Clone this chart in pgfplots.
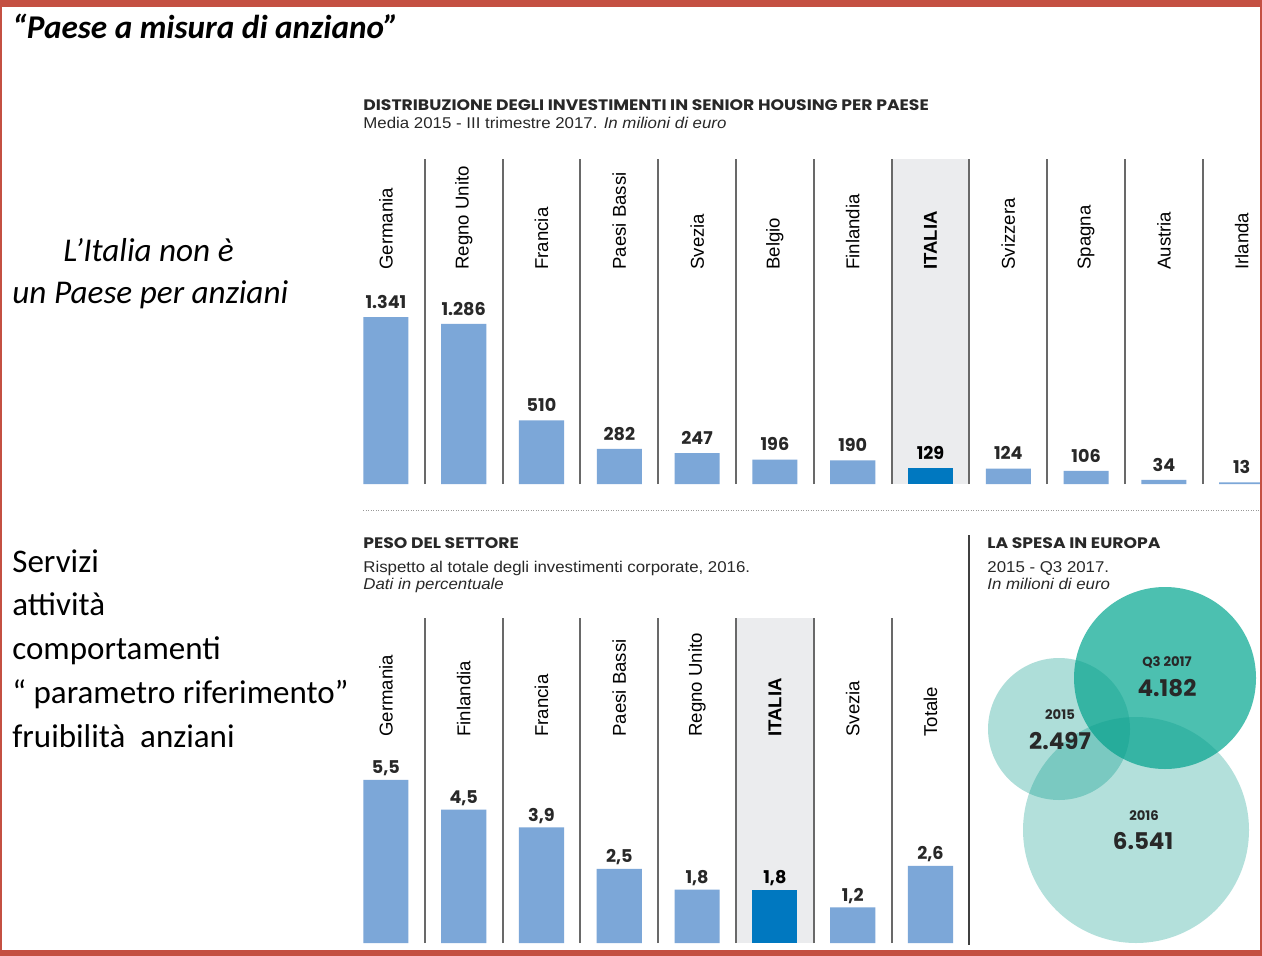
\documentclass[border=0pt]{standalone}
\usepackage{pgfplots}
\pgfplotsset{compat=1.18}
\usepackage{pgfplotstable}
\usepackage{fontspec}
\setmainfont{Liberation Sans}
\newfontfamily\slide{Carlito}
\newfontfamily\geo{Poppins}
\definecolor{frame}{RGB}{196,80,66}
\definecolor{barblue}{RGB}{124,167,216}
\definecolor{itblue}{RGB}{0,120,192}
\definecolor{shade}{RGB}{235,236,238}
\definecolor{sep}{RGB}{105,105,105}
\definecolor{tealb}{RGB}{5,155,138}
\definecolor{tealq}{RGB}{76,192,176}
\definecolor{txt}{RGB}{40,40,40}

\pgfplotstableread{
x v lab
0 1341 1.341
1 1286 1.286
2 510 510
3 282 282
4 247 247
5 196 196
6 190 190
8 124 124
9 106 106
10 34 34
11 13 13
}\topdata
\pgfplotstableread{
x v lab
7 129 129
}\topit
\pgfplotstableread{
x v lab
0 5.5 5,5
1 4.5 4,5
2 3.9 3,9
3 2.5 2,5
4 1.8 1,8
6 1.2 1,2
7 2.6 2,6
}\botdata
\pgfplotstableread{
x v lab
5 1.8 1,8
}\botit

\newcommand\namefont{\fontsize{9.3}{9.3}\selectfont}
\newcommand\valfont{\geo\bfseries\fontsize{8.8}{8.8}\selectfont}
\newcommand\headfont{\geo\bfseries\fontsize{7.6}{7.6}\selectfont}
\newcommand\subfont{\fontsize{7.8}{7.8}\selectfont}
\newcommand\hd[1]{\scalebox{1.13}[1]{#1}}
\newcommand\subx[1]{\scalebox{1.08}[1]{#1}}

\pgfplotsset{panel/.style={scale only axis, hide axis, clip=false, xmin=-0.5, ymin=0},
  bars/.style={ybar, bar width=0.58, bar shift=0pt, draw=none, nodes near coords,
    point meta=explicit symbolic,
    every node near coord/.append style={anchor=base, inner sep=0pt, text=txt}}}

\begin{document}
\begin{tikzpicture}[x=0.5pt, y=-0.5pt]
\useasboundingbox (0,0) rectangle (1262,956);
\clip (0,0) rectangle (1262,956);
\fill[white] (0,0) rectangle (1262,956);

% slide text
\node[anchor=base west, inner sep=0pt, font=\slide\bfseries\itshape\fontsize{16.6}{16}\selectfont] at (12,38.5) {“Paese a misura di anziano”};
\node[anchor=base west, inner sep=0pt, font=\slide\itshape\fontsize{16.6}{16}\selectfont] at (63,261.5) {L’Italia non è};
\node[anchor=base west, inner sep=0pt, font=\slide\itshape\fontsize{16.6}{16}\selectfont] at (12,303.5) {un Paese per anziani};
\foreach \t/\yy in {Servizi/572, attività/615, comportamenti/659, {“ parametro riferimento”}/703, {fruibilità~ anziani}/747}
  \node[anchor=base west, inner sep=0pt, font=\slide\fontsize{16.5}{16}\selectfont] at (12,\yy) {\t};

% headers
\node[anchor=base west, inner sep=0pt, font=\headfont, text=txt] at (363,111) {\hd{DISTRIBUZIONE DEGLI INVESTIMENTI IN SENIOR HOUSING PER PAESE}};
\node[anchor=base west, inner sep=0pt, font=\subfont, text=txt] at (363,128.5) {\subx{Media 2015 - III trimestre 2017. \textit{In milioni di euro}}};
\node[anchor=base west, inner sep=0pt, font=\headfont, text=txt] at (363,548.5) {\hd{PESO DEL SETTORE}};
\node[anchor=base west, inner sep=0pt, font=\subfont, text=txt] at (363,572) {\subx{Rispetto al totale degli investimenti corporate, 2016.}};
\node[anchor=base west, inner sep=0pt, font=\subfont, text=txt] at (363,589) {\subx{\textit{Dati in percentuale}}};
\node[anchor=base west, inner sep=0pt, font=\headfont, text=txt] at (987,548.5) {\hd{LA SPESA IN EUROPA}};
\node[anchor=base west, inner sep=0pt, font=\subfont, text=txt] at (987,572) {\subx{2015 - Q3 2017.}};
\node[anchor=base west, inner sep=0pt, font=\subfont, text=txt] at (987,589) {\subx{\textit{In milioni di euro}}};

\draw[gray!80, line width=0.5pt, dash pattern=on 0.5pt off 0.75pt] (363,510) -- (1262,510);
\draw[black!75, line width=1pt] (969,535) -- (969,945);

\coordinate (topSW) at (347,484);
\coordinate (botSW) at (347,943);
\coordinate (bubSW) at (970,950);

% top chart
\begin{axis}[panel, at={(topSW)}, anchor=south west, width=466.8pt, height=162.5pt,
  xmax=11.5, ymax=2610]
\addplot[ybar, bar width=1, bar shift=0pt, fill=shade, draw=none] coordinates {(7,2610)};
\addplot[ycomb, draw=sep, line width=1pt, mark=none] coordinates {(0.5,2610) (1.5,2610) (2.5,2610) (3.5,2610) (4.5,2610) (5.5,2610) (6.5,2610) (7.5,2610) (8.5,2610) (9.5,2610) (10.5,2610)};
\addplot[bars, fill=barblue, every node near coord/.append style={font=\valfont, yshift=4.3pt}] table[x=x, y=v, meta=lab] {\topdata};
\addplot[bars, fill=itblue, every node near coord/.append style={font=\valfont, text=black, yshift=4.3pt}] table[x=x, y=v, meta=lab] {\topit};
\foreach \i/\n in {0/Germania, 1/Regno Unito, 2/Francia, 3/Paesi Bassi, 4/Svezia, 5/Belgio, 6/Finlandia, 8/Svizzera, 9/Spagna, 10/Austria, 11/Irlanda}{
  \edef\temp{\noexpand\node[rotate=90, anchor=west, inner sep=0pt, font=\noexpand\namefont, text=black] at (axis cs:\i,1718) {\n};}
  \temp}
\node[rotate=90, anchor=west, inner sep=0pt, font=\namefont\bfseries, text=black] at (axis cs:7,1718) {ITALIA};
\end{axis}

% bottom chart
\begin{axis}[panel, at={(botSW)}, anchor=south west, width=311.2pt, height=162.5pt,
  xmax=7.5, ymax=10.965]
\addplot[ybar, bar width=1, bar shift=0pt, fill=shade, draw=none] coordinates {(5,10.965)};
\addplot[ycomb, draw=sep, line width=1pt, mark=none] coordinates {(0.5,10.965) (1.5,10.965) (2.5,10.965) (3.5,10.965) (4.5,10.965) (5.5,10.965) (6.5,10.965)};
\addplot[bars, fill=barblue, every node near coord/.append style={font=\valfont, yshift=3pt}] table[x=x, y=v, meta=lab] {\botdata};
\addplot[bars, fill=itblue, every node near coord/.append style={font=\valfont, text=black, yshift=3pt}] table[x=x, y=v, meta=lab] {\botit};
\foreach \i/\n in {0/Germania, 1/Finlandia, 2/Francia, 3/Paesi Bassi, 4/Regno Unito, 6/Svezia, 7/Totale}{
  \edef\temp{\noexpand\node[rotate=90, anchor=west, inner sep=0pt, font=\noexpand\namefont, text=black] at (axis cs:\i,6.95) {\n};}
  \temp}
\node[rotate=90, anchor=west, inner sep=0pt, font=\namefont\bfseries, text=black] at (axis cs:5,6.95) {ITALIA};
\end{axis}

% bubbles (area proportional to value: 4.182, 2.497, 6.541)
\begin{axis}[scale only axis, hide axis, clip=false, at={(bubSW)}, anchor=south west,
  width=146pt, height=215pt, xmin=970, xmax=1262, ymin=520, ymax=950, y dir=reverse]
\addplot[only marks, mark=*, draw=none, mark size=45.5pt, mark options={fill=tealq, draw=none, draw opacity=0, line width=0pt}] coordinates {(1165,678)};
\addplot[only marks, mark=*, draw=none, mark size=35.5pt, mark options={fill=tealb, fill opacity=0.32, draw=none, draw opacity=0, line width=0pt}] coordinates {(1059,729)};
\addplot[only marks, mark=*, draw=none, mark size=56.5pt, mark options={fill=tealb, fill opacity=0.3, draw=none, draw opacity=0, line width=0pt}] coordinates {(1136,830)};
\end{axis}
\node[font=\geo\bfseries\fontsize{6.6}{6.6}\selectfont, text=txt] at (1167,662) {Q3 2017};
\node[font=\geo\bfseries\fontsize{11.5}{11.5}\selectfont, text=txt] at (1167,688) {4.182};
\node[font=\geo\bfseries\fontsize{6.6}{6.6}\selectfont, text=txt] at (1060,715) {2015};
\node[font=\geo\bfseries\fontsize{11.5}{11.5}\selectfont, text=txt] at (1060,741) {2.497};
\node[font=\geo\bfseries\fontsize{6.6}{6.6}\selectfont, text=txt] at (1144,816) {2016};
\node[font=\geo\bfseries\fontsize{11.5}{11.5}\selectfont, text=txt] at (1143,841) {6.541};

% frame
\fill[frame] (0,0) rectangle (1262,7);
\fill[frame] (0,950) rectangle (1262,956);
\fill[frame] (0,0) rectangle (2,956);
\fill[frame] (1259.5,0) rectangle (1262,956);
\end{tikzpicture}
\end{document}
